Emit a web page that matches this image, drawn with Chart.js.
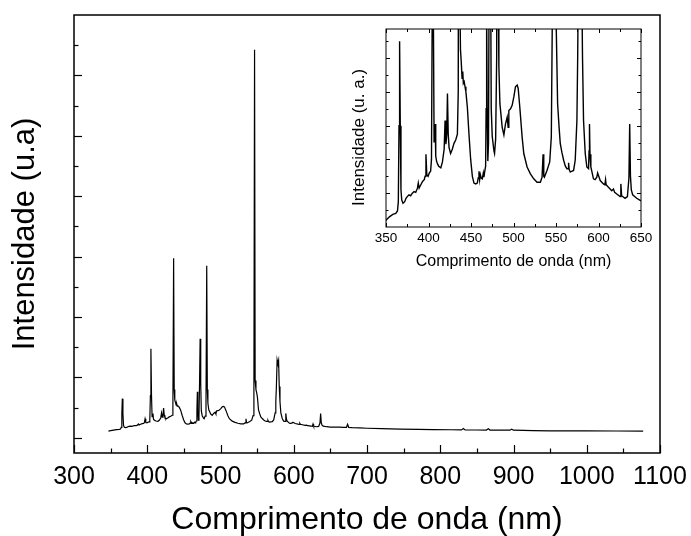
<!DOCTYPE html>
<html>
<head>
<meta charset="utf-8">
<script src="https://cdn.jsdelivr.net/npm/chart.js@4/dist/chart.umd.min.js"></script>
<style>
  body { margin: 0; background: #fff; }
  #wrap { position: relative; width: 691px; height: 536px; }
  #main { position: absolute; left: 0; top: 0; }
  #inset { position: absolute; left: 340px; top: 20px; }
</style>
</head>
<body>
<div id="wrap">
  <canvas id="main" width="691" height="536"></canvas>
  <canvas id="inset" width="320" height="260"></canvas>
</div>
<script>
// spectre (nm) et intensite (u.a.)
const wavelength = [
  347, 350, 354, 358, 361.5, 363.5, 364.5, 365.3, 366, 366.8, 367.6, 368.5, 370, 372, 373.5, 375, 377, 379,
  381, 383, 385, 387, 388, 389, 391, 393, 395, 396, 397, 398, 399.5, 401, 402.5, 403.5, 404.3, 405, 405.8,
  406.6, 407.8, 408.5, 409.5, 410.5, 412, 414.5, 416.4, 418.4, 419.5, 420.5, 421.5, 422.3, 423.2, 424.2,
  426, 428, 430, 432, 434, 435, 436, 436.8, 437.6, 438.5, 439.5, 440.3, 441, 442, 443, 444, 445.7, 447.6,
  449.6, 451.6, 453.5, 455.5, 457.4, 458.5, 459.4, 460.2, 461, 462, 463.3, 464.5, 465.2, 466.2, 467.2,
  467.8, 468.4, 469, 469.8, 470.6, 471.4, 472.2, 473, 473.8, 475, 477, 477.7, 479, 480.2, 481.2, 482, 482.8,
  484, 486.7, 488.7, 490.6, 492.6, 493.7, 494.5, 496.5, 498.4, 500.4, 502.3, 504.3, 505.5, 507.4, 510.1,
  512.1, 516, 519.9, 523.8, 527.7, 531.6, 533.6, 534.8, 535.6, 536.3, 539.4, 542.6, 544.5, 545.6, 546.5,
  547.3, 548.4, 549.5, 550.4, 551.9, 553.5, 555, 557, 559, 561, 562.9, 564.2, 564.8, 565.5, 566.8, 568.5,
  570.7, 572.6, 574.6, 575.5, 576.3, 577.3, 578.4, 579.3, 580.2, 581.2, 582.4, 584.4, 586.3, 588.3, 588.9,
  589.4, 590, 591, 594.1, 596, 598, 599, 600, 602, 605.8, 607.5, 608.3, 609, 611.7, 615.6, 617.6, 619,
  621.5, 625.4, 626.3, 627.2, 631.2, 634, 635.8, 636.7, 637.6, 638.6, 640.2, 644.9, 650, 656, 662, 668,
  672, 673.5, 675, 680, 690, 700, 720, 745, 770, 790, 815, 829, 831.5, 834, 850, 863, 865.6, 868, 885,
  895, 897.5, 900, 927, 950, 972, 1000, 1040, 1077
]
const intensity = [
  2.25, 2.4, 2.6, 2.75, 2.8, 2.95, 3.5, 8, 13.0, 8, 4.2, 3.6, 3.4, 3.5, 3.7, 3.8, 3.9, 3.85,
  4.0, 4.1, 4.05, 4.3, 4.6, 4.3, 4.5, 4.7, 4.8, 5.0, 6.3, 5.1, 5.0, 5.2, 5.3, 6.0, 14, 29.5, 14,
  7.0, 8.1, 6.2, 5.9, 5.75, 5.6, 5.5, 5.85, 6.6, 8.3, 6.9, 7.5, 9.9, 7.5, 6.7,
  6.35, 6.6, 6.95, 7.15, 7.5, 10, 59.5, 16, 12.5, 11.8, 10.8, 11.2, 10.5, 10.6, 10.3, 10.0, 9.1, 7.5,
  6.0, 5.0, 4.6, 4.55, 4.6, 4.9, 5.3, 4.8, 5.1, 4.9, 4.85, 5.2, 4.95, 5.3, 5.6,
  9, 15.3, 9, 5.9, 7, 18, 32.8, 18, 9, 7.35, 6.5, 6.35, 7.2, 12, 57, 16, 11.5,
  9.3, 7.9, 7.45, 8.1, 8.5, 7.9, 8.9, 9.0, 9.2, 9.7, 10.3, 10.4, 10.2, 9.1, 7.35,
  6.35, 5.55, 5.15, 4.85, 4.65, 4.65, 4.95, 6.3, 5.0, 4.95, 5.35, 5.85, 7.35, 14, 128.5,
  19, 16, 14.8, 13.5, 9.3, 8.0, 6.95, 6.4, 5.95, 5.6, 5.45, 5.45, 5.8, 5.4, 5.25, 5.3,
  5.35, 5.95, 8.3, 12, 17, 25.8, 24.5, 25.6, 17, 12, 8.3, 6.35, 5.55, 5.45, 6.5,
  8.1, 6.3, 5.55, 4.85, 4.8, 4.95, 5.2, 5.05, 4.75, 4.55, 4.5, 4.8, 4.5, 4.35, 4.15, 4.25, 4.05,
  3.95, 3.8, 4.55, 3.85, 3.7, 3.8, 4.9, 8.1, 5.0, 4.2, 3.9, 3.7, 3.55, 3.6, 3.55, 3.5,
  3.5, 4.5, 3.5, 3.4, 3.3, 3.2, 3.05, 2.9, 2.8, 2.75, 2.7, 2.65, 3.1, 2.65, 2.62, 2.6, 3.0, 2.6, 2.57,
  2.55, 2.9, 2.55, 2.4, 2.35, 2.3, 2.3, 2.28, 2.25
]

// graduations
const mainXTicks = [300, 400, 500, 600, 700, 800, 900, 1000, 1100]
const mainXMinor = [350, 450, 550, 650, 750, 850, 950, 1050]
const mainYMajor = [0, 20, 40, 60, 80, 100, 120]
const mainYMinor = [10, 30, 50, 70, 90, 110, 130]
const insetXTicks = [350, 400, 450, 500, 550, 600, 650]
const insetXMinor = [375, 425, 475, 525, 575, 625]
const insetYMajor = [4, 6, 8, 10, 12]
const insetYMinor = [3, 5, 7, 9, 11, 13]

const points = wavelength.map((w, i) => ({ x: w, y: intensity[i] }))
const FONT = "'Liberation Sans', Arial, sans-serif"

// cadre + graduations vers l'interieur
const frameTicks = {
    id: 'frameTicks',
    afterDatasetsDraw(chart, args, opts) {
        const { ctx, chartArea: a, scales } = chart
        ctx.save()
        ctx.strokeStyle = '#000'
        ctx.lineWidth = opts.tickWidth
        opts.marks.forEach(m => {
            const sc = scales[m.axis]
            m.values.forEach(v => {
                const p = Math.round(sc.getPixelForValue(v)) + 0.5
                ctx.beginPath()
                m.sides.forEach(side => {
                    if (side === 'bottom') { ctx.moveTo(p, a.bottom); ctx.lineTo(p, a.bottom - m.len) }
                    if (side === 'top') { ctx.moveTo(p, a.top); ctx.lineTo(p, a.top + m.len) }
                    if (side === 'left') { ctx.moveTo(a.left, p); ctx.lineTo(a.left + m.len, p) }
                    if (side === 'right') { ctx.moveTo(a.right, p); ctx.lineTo(a.right - m.len, p) }
                })
                ctx.stroke()
            })
        })
        ctx.lineWidth = opts.frameWidth
        ctx.strokeRect(a.left, a.top, a.right - a.left, a.bottom - a.top)
        ctx.restore()
    }
}

const fixTicks = arr => scale => { scale.ticks = arr.map(v => ({ value: v })) }

let main = new Chart(document.getElementById('main').getContext('2d'), {
    type: 'line',
    data: {
        datasets: [{ data: points, borderColor: '#000', borderWidth: 1.2, pointRadius: 0, tension: 0, fill: false }]
    },
    options: {
        responsive: false,
        animation: false,
        events: [],
        layout: { padding: { top: 15, right: 31, left: 0, bottom: 0 } },
        plugins: {
            legend: { display: false },
            tooltip: { enabled: false },
            frameTicks: {
                tickWidth: 1.2,
                frameWidth: 1.5,
                marks: [
                    { axis: 'x', values: mainXTicks, len: 8, sides: ['bottom'] },
                    { axis: 'x', values: mainXMinor, len: 4.5, sides: ['bottom'] },
                    { axis: 'y', values: mainYMajor, len: 8, sides: ['left'] },
                    { axis: 'y', values: mainYMinor, len: 4.5, sides: ['left'] },
                ]
            }
        },
        scales: {
            x: {
                type: 'linear', min: 300, max: 1100,
                afterBuildTicks: fixTicks(mainXTicks),
                afterFit: s => { s.height = 83; s.paddingRight = 28; s.paddingLeft = 22 },
                grid: { display: false, drawTicks: false },
                border: { display: false },
                ticks: { color: '#000', font: { family: FONT, size: 25 }, padding: 9, autoSkip: false, maxRotation: 0, callback: v => String(v) },
                title: { display: true, text: 'Comprimento de onda (nm)', color: '#000', font: { family: FONT, size: 32, lineHeight: 1 }, padding: 0 }
            },
            y: {
                min: -5, max: 140,
                afterBuildTicks: fixTicks(mainYMajor.concat(mainYMinor)),
                afterFit: s => { s.width = 74 },
                grid: { display: false, drawTicks: false },
                border: { display: false },
                ticks: { display: false },
                title: { display: true, text: 'Intensidade (u.a)', color: '#000', font: { family: FONT, size: 31, lineHeight: 1 }, padding: { top: 10, bottom: 0 } }
            }
        }
    },
    plugins: [frameTicks]
})

let inset = new Chart(document.getElementById('inset').getContext('2d'), {
    type: 'line',
    data: {
        datasets: [{ data: points, borderColor: '#000', borderWidth: 1.4, pointRadius: 0, tension: 0, fill: false }]
    },
    options: {
        responsive: false,
        animation: false,
        events: [],
        layout: { padding: { top: 9, right: 19, left: 0, bottom: 0 } },
        plugins: {
            legend: { display: false },
            tooltip: { enabled: false },
            frameTicks: {
                tickWidth: 1,
                frameWidth: 1,
                marks: [
                    { axis: 'x', values: insetXTicks, len: 4, sides: ['bottom', 'top'] },
                    { axis: 'x', values: insetXMinor, len: 3, sides: ['bottom', 'top'] },
                    { axis: 'y', values: insetYMajor, len: 4, sides: ['left', 'right'] },
                    { axis: 'y', values: insetYMinor, len: 2.5, sides: ['left', 'right'] },
                ]
            }
        },
        scales: {
            x: {
                type: 'linear', min: 350, max: 650,
                afterBuildTicks: fixTicks(insetXTicks),
                afterFit: s => { s.height = 53 },
                grid: { display: false, drawTicks: false },
                border: { display: false },
                ticks: { color: '#000', font: { family: FONT, size: 13.5 }, padding: 3, autoSkip: false, maxRotation: 0, callback: v => String(v) },
                title: { display: true, text: 'Comprimento de onda (nm)', color: '#000', font: { family: FONT, size: 16, lineHeight: 1 }, padding: { top: 0, bottom: 10 } }
            },
            y: {
                min: 2, max: 13.72,
                afterBuildTicks: fixTicks(insetYMajor.concat(insetYMinor)),
                afterFit: s => { s.width = 46 },
                grid: { display: false, drawTicks: false },
                border: { display: false },
                ticks: { display: false },
                title: { display: true, text: 'Intensidade (u. a.)    ', color: '#000', font: { family: FONT, size: 17, lineHeight: 1 }, padding: { top: 11, bottom: 0 } }
            }
        }
    },
    plugins: [frameTicks]
})
</script>
</body>
</html>
